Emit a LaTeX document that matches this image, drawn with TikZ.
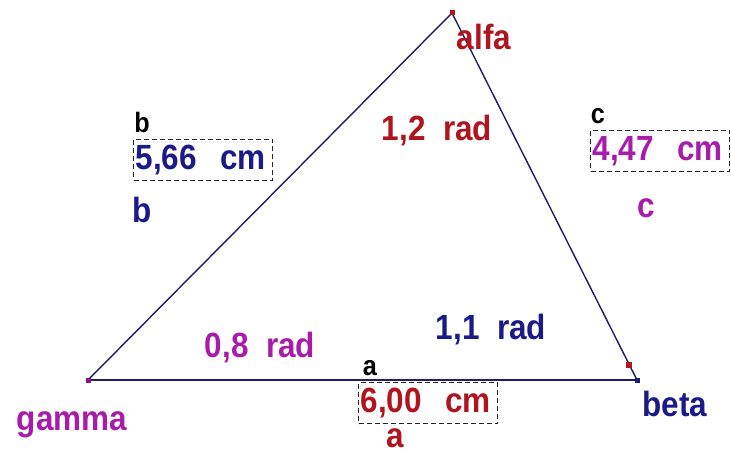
\documentclass[tikz,border=0pt]{standalone}
\usepackage{fontspec}
\setmainfont{Liberation Sans}[FakeStretch=0.9]
\usepackage{tikz}
\definecolor{side}{HTML}{1E1E64}
\definecolor{wine}{HTML}{B0141E}
\definecolor{navy}{HTML}{1A1A88}
\definecolor{plum}{HTML}{A81CAC}
\definecolor{rim}{HTML}{222222}

\begin{document}
\begin{tikzpicture}[x=1pt, y=-1pt,
  lbl/.style={inner sep=0pt, font=\fontsize{35}{37}\selectfont\bfseries},
  tag/.style={inner sep=0pt, font=\fontsize{28}{30}\selectfont\bfseries, text=black},
  valbox/.style={draw=rim, line width=1.3pt, dash pattern=on 5pt off 3pt, text width=135pt, align=left, minimum height=41pt, inner xsep=2pt, inner ysep=0pt, anchor=west, font=\fontsize{35}{37}\selectfont\bfseries},
  vtx/.style={rectangle, inner sep=0pt, minimum size=5pt},
  sidel/.style={draw=side, line width=1.4pt},
]
  \useasboundingbox (0,0) rectangle (731,454);
  \fill[white] (0,0) rectangle (731,454);
  \coordinate (A) at (452,13);
  \coordinate (B) at (637,380);
  \coordinate (G) at (88,380);
  \draw[sidel] (A) -- (G);
  \draw[sidel] (G) -- (B);
  \draw[sidel] (A) -- (B);
  \node[vtx, fill=wine] (adot) at (A) {};
  \node[vtx, fill=navy] (bdot) at (B) {};
  \node[vtx, fill=plum!80!black] (gdot) at (G) {};
  \node[vtx, fill=wine, minimum size=6pt] (mark) at (629,365) {};
  \node[lbl, text=wine] (alfa) at (484,37) {alfa};
  \node[lbl, text=navy] (beta) at (675,404) {beta};
  \node[lbl, text=plum] (gamma) at (72,425) {gamma};
  \node[lbl, text=wine] (angA) at (437,131) {1,2\ \ rad};
  \node[lbl, text=navy] (angB) at (491,330) {1,1\ \ rad};
  \node[lbl, text=plum] (angG) at (260,348) {0,8\ \ rad};
  \node[tag] (tb) at (142,122) {b};
  \node[valbox, text=navy] (vb) at (133,160) {5,66\ \ cm};
  \node[lbl, text=navy] (lb) at (142,210) {b};
  \node[tag] (tc) at (598,116) {c};
  \node[valbox, text=plum] (vc) at (590,151) {4,47\ \ cm};
  \node[lbl, text=plum] (lc) at (646,208) {c};
  \node[tag] (ta) at (370,368) {a};
  \node[valbox, text=wine] (va) at (358,403) {6,00\ \ cm};
  \node[lbl, text=wine] (la) at (395,438) {a};
\end{tikzpicture}
\end{document}
